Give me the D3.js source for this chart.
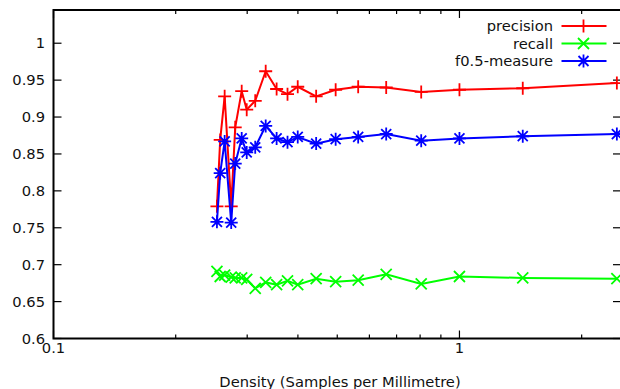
<!DOCTYPE html>
<html>
<head>
<meta charset="utf-8">
<script src="https://cdn.jsdelivr.net/npm/d3@7"></script>
<style>
  body { margin: 0; background: #fff; }
  svg { display: block; font-family: "DejaVu Sans", sans-serif; }
</style>
</head>
<body>
<svg id="chart" width="620" height="389"></svg>
<script>
// data
const density = [0.2527, 0.2574, 0.264, 0.274, 0.2803, 0.2908, 0.2992, 0.314, 0.3332, 0.3545,
                 0.3771, 0.3996, 0.4436, 0.4955, 0.563, 0.66, 0.805, 1.0, 1.432, 2.442];
const precision = [0.779, 0.869, 0.928, 0.779, 0.886, 0.935, 0.910, 0.922, 0.962, 0.938,
                   0.931, 0.941, 0.928, 0.937, 0.941, 0.940, 0.934, 0.937, 0.939, 0.946];
const recall = [0.691, 0.684, 0.686, 0.683, 0.682, 0.682, 0.680, 0.668, 0.676, 0.673,
                0.678, 0.673, 0.681, 0.677, 0.679, 0.687, 0.674, 0.684, 0.682, 0.681];
const fmeasure = [0.758, 0.824, 0.867, 0.757, 0.837, 0.871, 0.852, 0.859, 0.888, 0.871,
                  0.866, 0.873, 0.864, 0.870, 0.873, 0.877, 0.868, 0.871, 0.874, 0.877];
const yTicks = [0.6, 0.65, 0.7, 0.75, 0.8, 0.85, 0.9, 0.95, 1];
const xTicks = [0.1, 1];
const xMinor = [0.2, 0.3, 0.4, 0.5, 0.6, 0.7, 0.8, 0.9, 2];

const series = [
  { name: "precision", values: precision, color: "#ff0000", marker: "plus" },
  { name: "recall", values: recall, color: "#00ff00", marker: "cross" },
  { name: "f0.5-measure", values: fmeasure, color: "#0000ff", marker: "star" }
];

const plot = { left: 53.5, right: 621, top: 10, bottom: 338.5 };
const fontSize = 14.7;
const textColor = "#111";
const svg = d3.select("#chart");

const x = d3.scaleLog().domain([0.1, 2.5]).range([plot.left, plot.right]);
const y = d3.scaleLinear().domain([0.6, 1.045]).range([plot.bottom, plot.top]);

// markers as paths centred on 0,0
function markerPath(kind) {
  const p = d3.path();
  if (kind === "plus") {
    p.moveTo(-6.5, 0); p.lineTo(6.5, 0);
    p.moveTo(0, -6.5); p.lineTo(0, 6.5);
  } else if (kind === "cross") {
    p.moveTo(-5.5, -5.5); p.lineTo(5.5, 5.5);
    p.moveTo(-5.5, 5.5); p.lineTo(5.5, -5.5);
  } else {
    p.moveTo(-6.5, 0); p.lineTo(6.5, 0);
    p.moveTo(0, -6.5); p.lineTo(0, 6.5);
    p.moveTo(-5, -5); p.lineTo(5, 5);
    p.moveTo(-5, 5); p.lineTo(5, -5);
  }
  return p.toString();
}

// ticks (inward, mirrored)
const tickG = svg.append("g").attr("stroke", "#000").attr("stroke-width", 1.2);
yTicks.forEach(v => {
  tickG.append("line").attr("x1", plot.left).attr("x2", plot.left + 8).attr("y1", y(v)).attr("y2", y(v));
  tickG.append("line").attr("x1", plot.right).attr("x2", plot.right - 8).attr("y1", y(v)).attr("y2", y(v));
});
xTicks.forEach(v => {
  tickG.append("line").attr("x1", x(v)).attr("x2", x(v)).attr("y1", plot.bottom).attr("y2", plot.bottom - 8);
  tickG.append("line").attr("x1", x(v)).attr("x2", x(v)).attr("y1", plot.top).attr("y2", plot.top + 8);
});
xMinor.forEach(v => {
  tickG.append("line").attr("x1", x(v)).attr("x2", x(v)).attr("y1", plot.bottom).attr("y2", plot.bottom - 4);
  tickG.append("line").attr("x1", x(v)).attr("x2", x(v)).attr("y1", plot.top).attr("y2", plot.top + 4);
});

// tick labels
svg.append("g").selectAll("text").data(yTicks).join("text")
  .attr("x", 45).attr("y", d => y(d) + 5.2)
  .attr("text-anchor", "end").attr("font-size", fontSize).attr("fill", textColor)
  .text(d => d3.format("")(d));
svg.append("g").selectAll("text").data(xTicks).join("text")
  .attr("x", d => x(d)).attr("y", 352.7)
  .attr("text-anchor", "middle").attr("font-size", fontSize).attr("fill", textColor)
  .text(d => d3.format("")(d));

svg.append("text")
  .attr("x", 340).attr("y", 386.5)
  .attr("text-anchor", "middle").attr("font-size", fontSize).attr("fill", textColor)
  .text("Density (Samples per Millimetre)");

// data lines and markers
const line = d3.line().x(d => x(d[0])).y(d => y(d[1]));
series.forEach(s => {
  const pts = density.map((d, i) => [d, s.values[i]]);
  svg.append("path").datum(pts)
    .attr("fill", "none").attr("stroke", s.color).attr("stroke-width", 2)
    .attr("d", line);
  svg.append("g").selectAll("path").data(pts).join("path")
    .attr("transform", d => `translate(${x(d[0])},${y(d[1])})`)
    .attr("d", markerPath(s.marker))
    .attr("fill", "none").attr("stroke", s.color).attr("stroke-width", 1.8);
});

// legend
const legend = svg.append("g");
series.forEach((s, i) => {
  const ly = 26 + i * 17.5;
  legend.append("text")
    .attr("x", 553).attr("y", ly + 5.1)
    .attr("text-anchor", "end").attr("font-size", fontSize).attr("fill", textColor)
    .text(s.name);
  legend.append("line")
    .attr("x1", 561.5).attr("x2", 606.5).attr("y1", ly).attr("y2", ly)
    .attr("stroke", s.color).attr("stroke-width", 2);
  legend.append("path")
    .attr("transform", `translate(583.5,${ly})`)
    .attr("d", markerPath(s.marker))
    .attr("fill", "none").attr("stroke", s.color).attr("stroke-width", 1.8);
});

// frame
svg.append("rect")
  .attr("x", plot.left).attr("y", plot.top).attr("width", plot.right - plot.left).attr("height", plot.bottom - plot.top)
  .attr("fill", "none").attr("stroke", "#000").attr("stroke-width", 2);
</script>
</body>
</html>
